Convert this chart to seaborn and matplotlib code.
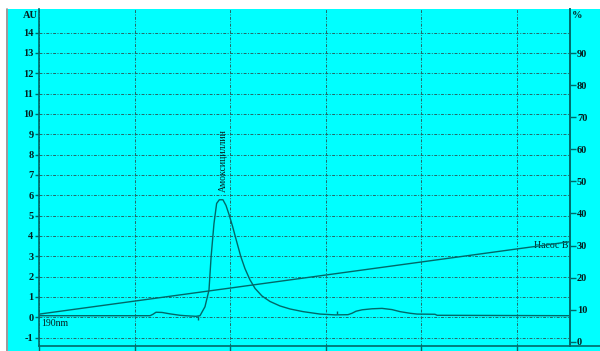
import matplotlib
matplotlib.use("Agg")
import matplotlib.pyplot as plt
import seaborn as sns
import pandas as pd
from matplotlib.patches import Rectangle
from matplotlib.lines import Line2D

# ---- data (time in min, absorbance in AU) ----
time_min = [0.0, 5.81, 5.96, 6.12, 6.43, 6.85, 7.37, 7.64, 8.21, 8.42, 8.68, 8.89,
            9.00, 9.15, 9.29, 9.43, 9.62, 9.78, 9.94, 10.13, 10.33, 10.55, 10.77,
            11.03, 11.30, 11.66, 12.08, 12.60, 13.13, 13.81, 14.70, 15.48, 16.16,
            16.37, 16.58, 16.90, 17.42, 17.94, 18.46, 18.88, 19.40, 19.77, 20.71,
            20.82, 27.77]
signal_au = [0.08, 0.08, 0.15, 0.25, 0.24, 0.17, 0.10, 0.08, 0.05, 0.08, 0.52, 1.34,
             2.97, 4.60, 5.60, 5.78, 5.78, 5.50, 5.05, 4.45, 3.75, 3.00, 2.40,
             1.85, 1.42, 1.05, 0.78, 0.56, 0.41, 0.28, 0.16, 0.12, 0.13,
             0.20, 0.30, 0.37, 0.42, 0.44, 0.38, 0.28, 0.20, 0.16, 0.15,
             0.10, 0.08]

gradient_t = [0.0, 27.77]
gradient_pct = [8.6, 31.2]

event_t = [8.34, 15.57]
event_lo = [-0.13, 0.16]
event_hi = [0.07, 0.31]

peak_name = "Амоксициллин"
peak_t = 9.65
peak_au = 6.14

left_ticks = list(range(-1, 15))
right_ticks = list(range(0, 100, 10))
x_ticks = [0, 5, 10, 15, 20, 25]

# ---- style ----
sns.set_style("ticks")
plt.rcParams['font.family'] = ['Liberation Serif', 'DejaVu Serif']

CYAN = "#00FFFF"
LINE = "#006868"
GRID = "#256868"
TXT = "#052020"

W, H = 600, 351
fig = plt.figure(figsize=(6, 3.51), dpi=100)
fig.patch.set_facecolor("white")
bg = Rectangle((8 / W, 0), 592 / W, 342 / H, transform=fig.transFigure,
               facecolor=CYAN, edgecolor="none", zorder=-5)
fig.patches.append(bg)
fig.lines.append(Line2D([7 / W, 7 / W], [0, 342 / H], transform=fig.transFigure,
                        color="#888888", lw=1.2, zorder=-4))

ax = fig.add_axes([39 / W, 5 / H, 531 / W, 337 / H])
ax.set_facecolor(CYAN)

df = pd.DataFrame({"t": time_min, "au": signal_au})
sns.lineplot(data=df, x="t", y="au", ax=ax, color=LINE, lw=1.0, sort=False)
ax.vlines(event_t, event_lo, event_hi, color=LINE, lw=1.0)

ax.set_xlim(0, 27.77)
ax.set_ylim(-1.41, 15.16)
ax.set_xticks(x_ticks)
ax.set_xticklabels([])
ax.set_yticks(left_ticks)
ax.set_yticklabels([str(v) for v in left_ticks], fontsize=7.5, color=TXT,
                   fontweight="bold")
ax.tick_params(axis="y", length=3, pad=1, color=LINE, width=1)
ax.tick_params(axis="x", length=5, color=LINE, width=1)
ax.grid(True, color=GRID, linestyle=(0, (3, 1.5, 1, 1.5)), lw=0.7)
ax.set_xlabel("")
ax.set_ylabel("")
ax.spines["top"].set_visible(False)
for s in ["left", "bottom", "right"]:
    ax.spines[s].set_color(LINE)
    ax.spines[s].set_linewidth(1.2)

# extend bottom axis line to right edge
fig.lines.append(Line2D([570 / W, 1.0], [5 / H, 5 / H], transform=fig.transFigure,
                        color=LINE, lw=1.2))

ax2 = ax.twinx()
gdf = pd.DataFrame({"t": gradient_t, "pct": gradient_pct})
sns.lineplot(data=gdf, x="t", y="pct", ax=ax2, color=LINE, lw=1.0)
ax2.set_ylim(-1.34, 103.8)
ax2.set_yticks(right_ticks)
ax2.set_yticklabels([str(v) for v in right_ticks], fontsize=7.5, color=TXT,
                    fontweight="bold")
ax2.tick_params(axis="y", length=4, pad=1, color=LINE, width=1)
ax2.set_ylabel("")
ax2.spines["top"].set_visible(False)
ax2.spines["right"].set_color(LINE)
ax2.spines["right"].set_linewidth(1.2)
ax2.spines["left"].set_visible(False)
ax2.spines["bottom"].set_visible(False)

# labels
fig.text(30 / W, 1 - 15 / H, "AU", fontsize=7.5, color=TXT, ha="center", va="center",
         fontweight="bold")
fig.text(577 / W, 1 - 15 / H, "%", fontsize=7.5, color=TXT, ha="center", va="center",
         fontweight="bold")
ax.text(0.1, -0.1, "190nm", fontsize=7, color=TXT, ha="left", va="top")
ax.text(27.67, 3.54, "Насос B", fontsize=7, color=TXT, ha="right", va="center")
ax.text(peak_t, peak_au, peak_name, fontsize=7, color=TXT, rotation=90,
        ha="center", va="bottom")

fig.savefig("out.png", dpi=100)
